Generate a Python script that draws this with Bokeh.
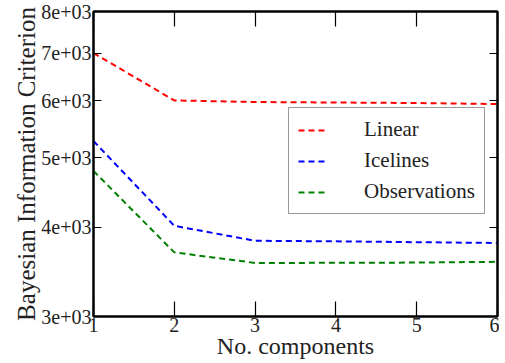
from bokeh.plotting import figure
from bokeh.models import LogAxis, LinearAxis, FixedTicker, Legend, LegendItem, Range1d
from bokeh.embed import file_html
from bokeh.resources import INLINE

components = [1, 2, 3, 4, 5, 6]
linear = [7000, 6010, 5980, 5970, 5960, 5940]
icelines = [5275, 4016, 3827, 3820, 3810, 3800]
observations = [4791, 3687, 3564, 3565, 3568, 3577]

y_ticks = [3000, 4000, 5000, 6000, 7000, 8000]
y_tick_labels = ["3e+03", "4e+03", "5e+03", "6e+03", "7e+03", "8e+03"]
x_ticks = [1, 2, 3, 4, 5, 6]

FONT = "'Liberation Serif', serif"

p = figure(width=499, height=363, y_axis_type="log",
           x_range=Range1d(1, 6), y_range=Range1d(3000, 8000),
           output_backend="svg", toolbar_location=None,
           min_border_left=93, min_border_right=2, min_border_top=11, min_border_bottom=47)
p.background_fill_color = "white"
p.border_fill_color = "white"
p.grid.visible = False
p.outline_line_color = "black"
p.outline_line_width = 2

r1 = p.line(components, linear, line_color="#ff0000", line_width=2, line_dash="6 4")
r2 = p.line(components, icelines, line_color="#0000ff", line_width=2, line_dash="6 4")
r3 = p.line(components, observations, line_color="#008000", line_width=2, line_dash="6 4")

xa = p.xaxis[0]
xa.ticker = FixedTicker(ticks=x_ticks)
xa.axis_label = "No. components"
ya = p.yaxis[0]
ya.ticker = FixedTicker(ticks=y_ticks)
ya.major_label_overrides = {float(t): l for t, l in zip(y_ticks, y_tick_labels)}
ya.axis_label = "Bayesian Information Criterion"

for ax, tick_len in ((xa, 15), (ya, 8)):
    ax.axis_line_color = "black"
    ax.axis_line_width = 2
    ax.major_tick_in = tick_len
    ax.major_tick_out = 0
    ax.major_tick_line_width = 1.2
    ax.major_tick_line_color = "black"
    ax.minor_tick_line_color = None
    ax.major_label_text_font = FONT
    ax.major_label_text_font_size = "20px"
    ax.major_label_text_color = "#222222"
    ax.axis_label_text_font = FONT
    ax.axis_label_text_font_style = "normal"
    ax.axis_label_text_color = "#222222"
xa.axis_label_text_font_size = "24px"
ya.axis_label_text_font_size = "25px"
xa.major_label_standoff = 1
xa.axis_label_standoff = -2
ya.major_label_standoff = 2
ya.axis_label_standoff = -2

top = LinearAxis(ticker=FixedTicker(ticks=x_ticks), major_tick_in=15, major_tick_out=0,
                 major_label_overrides={t: "" for t in x_ticks},
                 major_label_text_font_size="1px", minor_tick_line_color=None,
                 axis_line_color="black", axis_line_width=2, major_label_standoff=0,
                 major_tick_line_width=1.2)
right = LogAxis(ticker=FixedTicker(ticks=y_ticks), major_tick_in=8, major_tick_out=0,
                major_label_overrides={float(t): "" for t in y_ticks},
                major_label_text_font_size="1px", minor_tick_line_color=None,
                axis_line_color="black", axis_line_width=2, major_label_standoff=0,
                major_tick_line_width=1.2)
p.add_layout(top, "above")
p.add_layout(right, "right")

legend = Legend(items=[LegendItem(label="Linear", renderers=[r1]),
                       LegendItem(label="Icelines", renderers=[r2]),
                       LegendItem(label="Observations", renderers=[r3])],
                location=(195, 102))
legend.label_text_font = FONT
legend.label_text_font_size = "21px"
legend.label_text_color = "#222222"
legend.glyph_width = 30
legend.glyph_height = 20
legend.label_height = 20
legend.label_standoff = 36
legend.spacing = 6
legend.padding = 9
legend.margin = 0
legend.border_line_color = "#333333"
legend.border_line_width = 1.5
legend.background_fill_color = "white"
legend.background_fill_alpha = 1
p.add_layout(legend, "center")

open("out.html", "w").write(file_html(p, INLINE))
